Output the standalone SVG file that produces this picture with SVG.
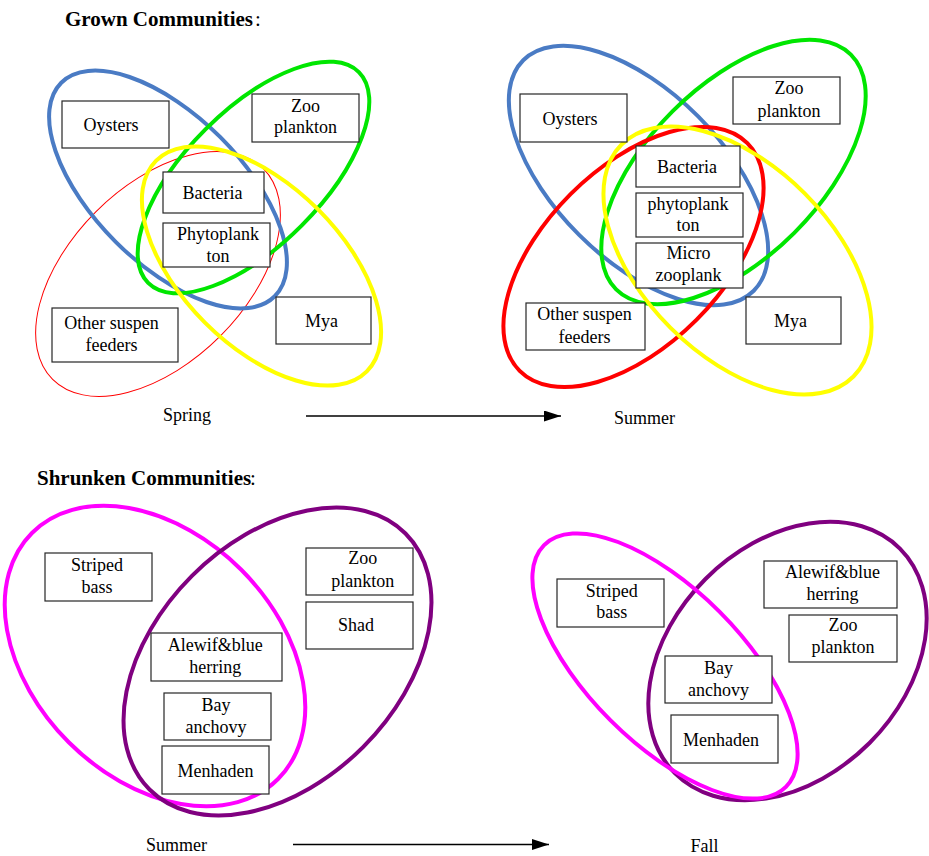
<svg xmlns="http://www.w3.org/2000/svg" width="929" height="856" viewBox="0 0 929 856">
<style>
.t{font-family:"Liberation Serif","Times New Roman",serif;font-size:18px;fill:#000;text-anchor:middle}
.l{font-family:"Liberation Serif","Times New Roman",serif;font-size:18px;fill:#000}
.h{font-family:"Liberation Serif","Times New Roman",serif;font-size:21px;font-weight:bold;fill:#000}
.c{font-family:"Liberation Serif","Times New Roman",serif;font-size:21px;fill:#000}
.b{fill:#fff;stroke:#262626;stroke-width:1.2}
.e{fill:none;stroke-width:4}
.blue{stroke:#4a7bc4}
.green{stroke:#00e600}
.yellow{stroke:#ffff00}
.red{stroke:#ff0000}
.mag{stroke:#ff00ff}
.pur{stroke:#800080}
.arr{stroke:#000;stroke-width:1.3;fill:none;marker-end:url(#ah)}
</style>
<defs>
<marker id="ah" markerUnits="userSpaceOnUse" markerWidth="18" markerHeight="12" refX="17" refY="5.5" orient="auto">
<path d="M0,0 L17,5.5 L0,11 z" fill="#000"/>
</marker>
</defs>
<rect width="929" height="856" fill="#fff"/>

<text class="h" x="65" y="26">Grown Communities</text><text class="c" x="255" y="26">:</text>
<text class="h" x="37" y="485">Shrunken Communities</text><text class="c" x="250" y="485">:</text>

<g id="ellipses">
<ellipse class="e red" style="stroke-width:1" cx="158" cy="274" rx="149" ry="88" transform="rotate(-45 158 274)"/>
<ellipse class="e blue" cx="168" cy="189.5" rx="151" ry="74" transform="rotate(45 168 189.5)"/>
<ellipse class="e green" cx="253.5" cy="177.5" rx="149" ry="68" transform="rotate(-45 253.5 177.5)"/>
<ellipse class="e yellow" cx="261.5" cy="266" rx="149" ry="80" transform="rotate(45 261.5 266)"/>

<ellipse class="e blue" cx="638.5" cy="175.5" rx="163" ry="84" transform="rotate(45 638.5 175.5)"/>
<ellipse class="e green" cx="733.5" cy="172" rx="166" ry="86" transform="rotate(-45 733.5 172)"/>
<ellipse class="e red" cx="633.5" cy="257" rx="161" ry="89" transform="rotate(-45 633.5 257)"/>
<ellipse class="e yellow" cx="737.5" cy="260.5" rx="164" ry="95" transform="rotate(45 737.5 260.5)"/>

<ellipse class="e mag" cx="155" cy="656" rx="174" ry="122" transform="rotate(45 155 656)"/>
<ellipse class="e pur" cx="277.5" cy="661.5" rx="181" ry="121" transform="rotate(-45 277.5 661.5)"/>

<ellipse class="e pur" cx="787.5" cy="661" rx="159" ry="116" transform="rotate(-45 787.5 661)"/>
<ellipse class="e mag" cx="665" cy="666" rx="171" ry="77" transform="rotate(45 665 666)"/>
</g>

<g id="connectors">
<line class="arr" x1="306" y1="416" x2="561" y2="416"/>
<line class="arr" x1="293" y1="844.5" x2="549" y2="844.5"/>
</g>

<g id="labels">
<text class="l" x="163" y="421">Spring</text>
<text class="l" x="614" y="424">Summer</text>
<text class="l" x="146" y="851">Summer</text>
<text class="l" x="690.5" y="852">Fall</text>
</g>

<g id="oysters1"><rect class="b" x="62" y="101" width="107" height="47"/><text class="t" x="111" y="131">Oysters</text></g>
<g id="zoo1"><rect class="b" x="252" y="94" width="107" height="48"/><text class="t" x="305.5" y="112">Zoo</text><text class="t" x="305.5" y="133">plankton</text></g>
<g id="bacteria1"><rect class="b" x="163" y="172" width="101" height="41"/><text class="t" x="212.5" y="198.5">Bacteria</text></g>
<g id="phyto1"><rect class="b" x="163" y="223" width="107" height="44"/><text class="t" x="218" y="240">Phytoplank</text><text class="t" x="218" y="262">ton</text></g>
<g id="other1"><rect class="b" x="52" y="308" width="126" height="54"/><text class="t" x="111.5" y="329">Other suspen</text><text class="t" x="111.5" y="350.5">feeders</text></g>
<g id="mya1"><rect class="b" x="276" y="297" width="95" height="47"/><text class="t" x="321.5" y="326.5">Mya</text></g>

<g id="oysters2"><rect class="b" x="520" y="94" width="107" height="48"/><text class="t" x="570" y="125">Oysters</text></g>
<g id="zoo2"><rect class="b" x="733" y="77" width="107" height="47"/><text class="t" x="789" y="94">Zoo</text><text class="t" x="789" y="116.5">plankton</text></g>
<g id="bacteria2"><rect class="b" x="636" y="146" width="104" height="41"/><text class="t" x="687" y="173">Bacteria</text></g>
<g id="phyto2"><rect class="b" x="636" y="193" width="107" height="44"/><text class="t" x="688" y="209.5">phytoplank</text><text class="t" x="688" y="231">ton</text></g>
<g id="micro2"><rect class="b" x="636" y="243" width="107" height="45"/><text class="t" x="688.5" y="259">Micro</text><text class="t" x="688.5" y="280.5">zooplank</text></g>
<g id="other2"><rect class="b" x="526" y="303" width="119" height="47"/><text class="t" x="584.5" y="320">Other suspen</text><text class="t" x="584.5" y="342.5">feeders</text></g>
<g id="mya2"><rect class="b" x="746" y="297" width="95" height="47"/><text class="t" x="790.5" y="327">Mya</text></g>

<g id="striped3"><rect class="b" x="45" y="553" width="107" height="48"/><text class="t" x="97" y="571">Striped</text><text class="t" x="97" y="593">bass</text></g>
<g id="zoo3"><rect class="b" x="306" y="548" width="107" height="47"/><text class="t" x="362.7" y="564">Zoo</text><text class="t" x="362.7" y="587">plankton</text></g>
<g id="shad3"><rect class="b" x="306" y="602" width="107" height="47"/><text class="t" x="356" y="630.5">Shad</text></g>
<g id="alewif3"><rect class="b" x="151" y="633" width="131" height="48"/><text class="t" x="215.2" y="650.7">Alewif&amp;blue</text><text class="t" x="215.2" y="673.3">herring</text></g>
<g id="bay3"><rect class="b" x="164" y="693" width="107" height="47"/><text class="t" x="216" y="710.7">Bay</text><text class="t" x="216" y="733.3">anchovy</text></g>
<g id="menhaden3"><rect class="b" x="162" y="746" width="107" height="48"/><text class="t" x="215.5" y="776.7">Menhaden</text></g>

<g id="striped4"><rect class="b" x="557" y="579" width="107" height="48"/><text class="t" x="611.7" y="596.7">Striped</text><text class="t" x="611.7" y="618.3">bass</text></g>
<g id="alewif4"><rect class="b" x="764" y="561" width="133" height="47"/><text class="t" x="832.5" y="577.7">Alewif&amp;blue</text><text class="t" x="832.5" y="600">herring</text></g>
<g id="zoo4"><rect class="b" x="789" y="615" width="108" height="47"/><text class="t" x="843" y="631">Zoo</text><text class="t" x="843" y="653.3">plankton</text></g>
<g id="bay4"><rect class="b" x="665" y="656" width="107" height="47"/><text class="t" x="718.5" y="674">Bay</text><text class="t" x="718.5" y="695.7">anchovy</text></g>
<g id="menhaden4"><rect class="b" x="671" y="715" width="107" height="48"/><text class="t" x="721" y="745.7">Menhaden</text></g>
</svg>
